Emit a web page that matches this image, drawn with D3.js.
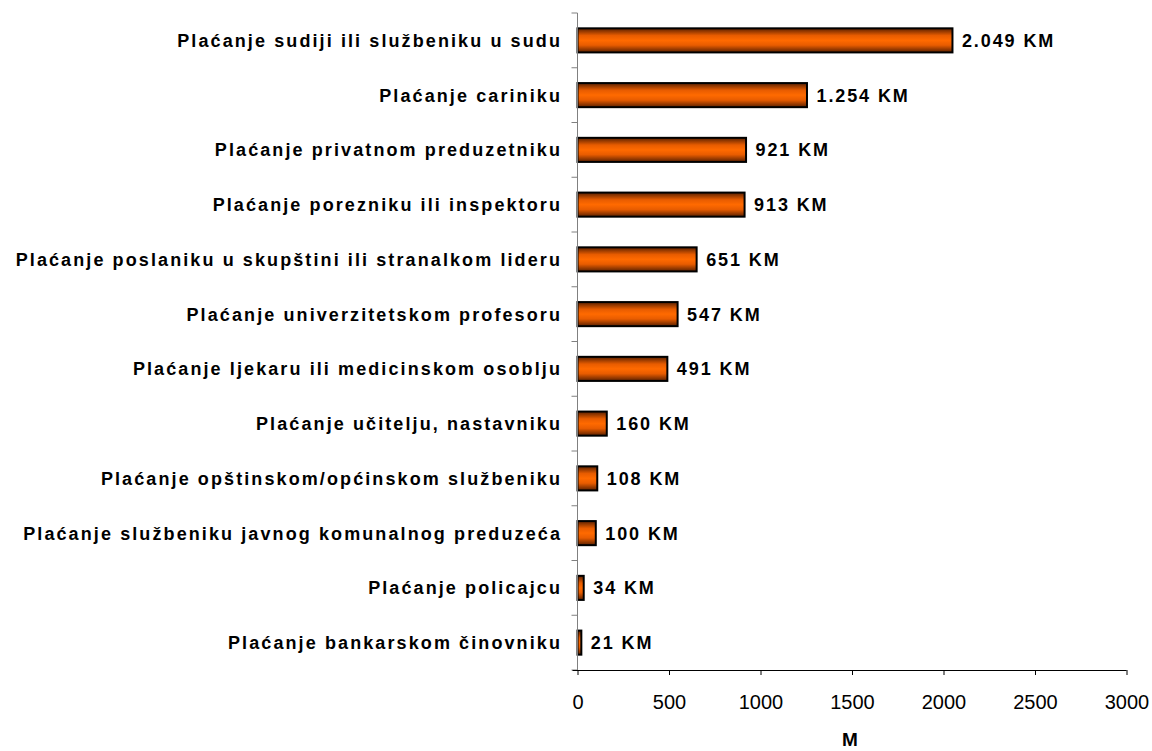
<!DOCTYPE html>
<html>
<head>
<meta charset="utf-8">
<script src="https://cdn.jsdelivr.net/npm/d3@7"></script>
<style>
  body { margin: 0; background: #fff; }
  text { font-family: "Liberation Sans", Arial, sans-serif; }
</style>
</head>
<body>
<script>
const categories = [
  "Plaćanje sudiji ili službeniku u sudu",
  "Plaćanje cariniku",
  "Plaćanje privatnom preduzetniku",
  "Plaćanje porezniku ili inspektoru",
  "Plaćanje poslaniku u skupštini ili stranalkom lideru",
  "Plaćanje univerzitetskom profesoru",
  "Plaćanje ljekaru ili medicinskom osoblju",
  "Plaćanje učitelju, nastavniku",
  "Plaćanje opštinskom/općinskom službeniku",
  "Plaćanje službeniku javnog komunalnog preduzeća",
  "Plaćanje policajcu",
  "Plaćanje bankarskom činovniku"
];
const values = [2049, 1254, 921, 913, 651, 547, 491, 160, 108, 100, 34, 21];
const valueLabels = ["2.049 KM", "1.254 KM", "921 KM", "913 KM", "651 KM", "547 KM", "491 KM", "160 KM", "108 KM", "100 KM", "34 KM", "21 KM"];
const xTicks = [0, 500, 1000, 1500, 2000, 2500, 3000];
const xTitle = "M";

const width = 1152, height = 751;
const svg = d3.select("body").append("svg").attr("width", width).attr("height", height);

const plotTop = 13, plotBottom = 670;
const x = d3.scaleLinear().domain([0, 3000]).range([577.5, 1126.5]);
const y = d3.scaleBand().domain(categories).range([plotTop, plotBottom]).paddingInner(0.56).paddingOuter(0.28);

const defs = svg.append("defs");
const grad = defs.append("linearGradient").attr("id", "barGrad")
    .attr("x1", 0).attr("y1", 0).attr("x2", 0).attr("y2", 1);
grad.append("stop").attr("offset", "0%").attr("stop-color", "#5a2000");
grad.append("stop").attr("offset", "30%").attr("stop-color", "#e85c00");
grad.append("stop").attr("offset", "50%").attr("stop-color", "#ff6a00");
grad.append("stop").attr("offset", "70%").attr("stop-color", "#e85c00");
grad.append("stop").attr("offset", "100%").attr("stop-color", "#5a2000");

// bars
svg.append("g").selectAll("rect")
  .data(values)
  .enter().append("rect")
    .attr("x", x(0))
    .attr("y", function(d, i) { return y(categories[i]); })
    .attr("width", function(d) { return x(d) - x(0); })
    .attr("height", y.bandwidth())
    .attr("fill", "url(#barGrad)")
    .attr("stroke", "#000")
    .attr("stroke-width", 2);

// value labels
svg.append("g").selectAll("text")
  .data(values)
  .enter().append("text")
    .attr("x", function(d) { return x(d) + 9.5; })
    .attr("y", function(d, i) { return y(categories[i]) + y.bandwidth() / 2; })
    .attr("dy", "0.36em")
    .attr("font-size", "18px")
    .attr("font-weight", "bold")
    .attr("letter-spacing", "1.9px")
    .text(function(d, i) { return valueLabels[i]; });

// y axis
const yAxis = svg.append("g").attr("transform", "translate(" + x(0) + ",0)");
yAxis.append("line").attr("x1", 0).attr("x2", 0).attr("y1", plotTop).attr("y2", plotBottom)
  .attr("stroke", "#808080").attr("stroke-width", 1);
const boundaries = d3.range(0, categories.length + 1).map(function(i) { return plotTop + i * ((plotBottom - plotTop) / categories.length); });
yAxis.selectAll("line.tick").data(boundaries).enter().append("line")
  .attr("class", "tick")
  .attr("x1", -6).attr("x2", 0)
  .attr("y1", function(d) { return d; }).attr("y2", function(d) { return d; })
  .attr("stroke", "#808080");

yAxis.selectAll("text").data(categories).enter().append("text")
  .attr("x", -15.5)
  .attr("y", function(d) { return y(d) + y.bandwidth() / 2; })
  .attr("dy", "0.36em")
  .attr("text-anchor", "end")
  .attr("font-size", "18px")
  .attr("font-weight", "bold")
  .attr("letter-spacing", "2.1px")
  .text(function(d) { return d; });

// x axis
const xAxis = svg.append("g").attr("transform", "translate(0," + plotBottom + ")")
  .call(d3.axisBottom(x).tickValues(xTicks).tickFormat(d3.format("d")).tickSize(5).tickSizeOuter(0));
xAxis.select(".domain").attr("stroke", "#000").attr("d", "M572.5,0.5H" + x(3000));
xAxis.selectAll(".tick line").attr("stroke", "#000");
xAxis.selectAll(".tick text")
  .attr("y", 39)
  .attr("dy", null)
  .attr("font-family", "Liberation Sans, Arial, sans-serif")
  .attr("font-size", "20px")
  .attr("fill", "#000");

svg.append("text")
  .attr("x", (x(0) + x(3000)) / 2 - 2)
  .attr("y", 746)
  .attr("text-anchor", "middle")
  .attr("font-size", "19px")
  .attr("font-weight", "bold")
  .text(xTitle);
</script>
</body>
</html>
